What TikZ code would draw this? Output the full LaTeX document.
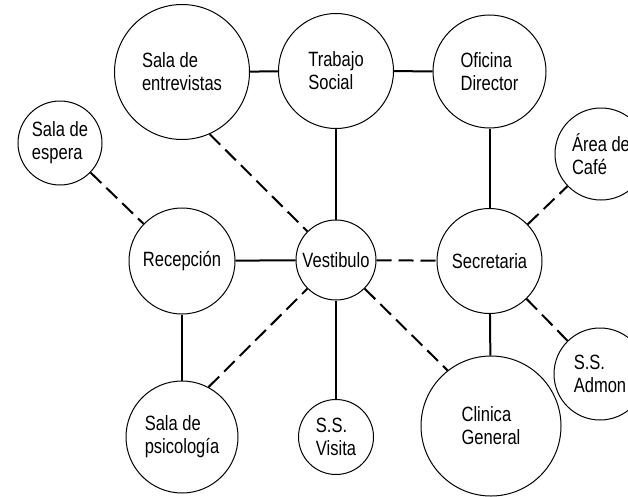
\documentclass[tikz,border=0pt]{standalone}
\usepackage{fontspec}
\setmainfont{Liberation Sans}[FakeStretch=0.8]

\begin{document}
\begin{tikzpicture}[x=0.75pt, y=-0.75pt,
    room/.style={circle, draw, line width=0.75pt, inner sep=0pt, align=left,
                 font=\fontsize{15.5}{17.25}\selectfont},
    link/.style={line width=1.5pt},
    loose/.style={link, dash pattern=on 11.25pt off 5.25pt}]
    \useasboundingbox (0,0) rectangle (628,496);
    \clip (0,0) rectangle (628,496);

    % top row
    \node[room, minimum size=101.25pt] (ent) at (182,72) {Sala de\\entrevistas};
    \node[room, minimum size=86.25pt] (tra) at (336,71) {Trabajo\\Social};
    \node[room, minimum size=84.75pt] (ofi) at (489.5,71.5) {Oficina\\Director};
    \node[room, minimum size=63pt] (esp) at (60,143) {Sala de\\espera};
    \node[room, minimum size=69pt] (caf) at (601,154) {Área de\\Café};

    % middle row
    \node[room, minimum size=79.5pt] (rec) at (182,261) {Recepción};
    \node[room, minimum size=60pt] (ves) at (336,260) {Vestibulo};
    \node[room, minimum size=78.75pt] (sec) at (489.5,261) {Secretaria};
    \node[room, minimum size=69pt] (adm) at (600,374) {S.S.\\Admon};

    % bottom row
    \node[room, minimum size=84pt] (psi) at (182,437) {Sala de\\psicología};
    \node[room, minimum size=56.25pt] (vis) at (336,437) {S.S.\\Visita};
    \node[room, minimum size=105pt] (cli) at (491,426) {Clinica\\General};

    \path[link]
    (ent) edge (tra)
    (tra) edge (ofi)
          edge (ves)
    (ofi) edge (sec)
    (rec) edge (ves)
          edge (psi)
    (ves) edge (vis)
    (sec) edge (cli);

    \path[loose]
    (esp) edge (rec)
    (ent.-66) edge (ves.135)
    (ves) edge (sec)
    (psi.62) edge (ves.-135)
    (ves.-45) edge (cli.128)
    (sec) edge (caf)
          edge (adm);
\end{tikzpicture}
\end{document}
